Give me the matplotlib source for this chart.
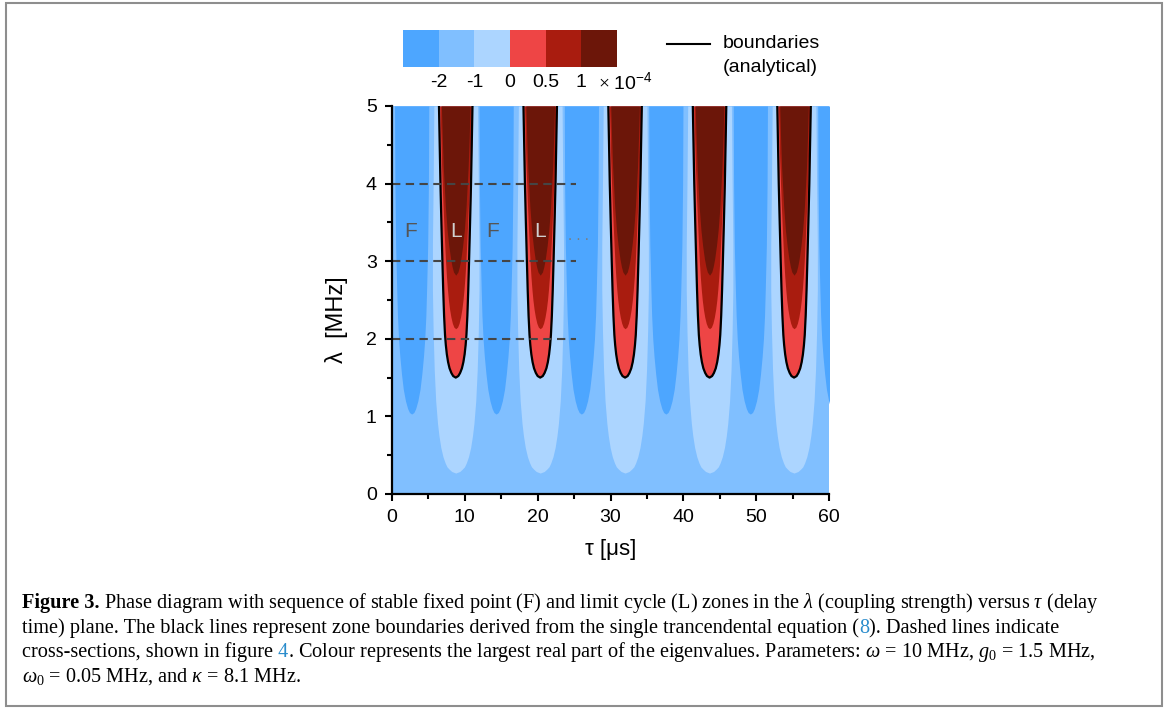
import numpy as np
import matplotlib.pyplot as plt
from matplotlib.colors import ListedColormap, BoundaryNorm
from matplotlib.cm import ScalarMappable
from matplotlib.lines import Line2D
from matplotlib.patches import Rectangle
from matplotlib.ticker import MultipleLocator

plt.rcParams['font.family'] = ['Liberation Sans', 'DejaVu Sans']
plt.rcParams['mathtext.fontset'] = 'custom'
plt.rcParams['mathtext.rm'] = 'Liberation Serif'
plt.rcParams['mathtext.it'] = 'Liberation Serif:italic'
plt.rcParams['mathtext.bf'] = 'Liberation Serif:bold'

# colour levels (x 1e-4) and their colours
levels = [-2, -1, 0, 0.5, 1]
level_labels = ['-2', '-1', '0', '0.5', '1']
colors = ['#4da6ff', '#80bfff', '#acd5ff', '#ee4545', '#a91c0f', '#6c1609']

# zone centres along tau (us)
lobe_centres = [8.75, 20.35, 32.0, 43.6, 55.2]
gap_centres = [2.7, 14.3, 26.0, 37.6, 49.2, 60.8]

# contour half widths (tau) vs lambda
lam_db = [1.03, 1.05, 1.10, 1.20, 1.35, 1.55, 1.77, 2.00, 2.30, 2.63, 3.20, 4.00, 5.00]
hw_db = [0.00, 0.30, 0.55, 0.85, 1.15, 1.40, 1.62, 1.80, 1.95, 2.05, 2.20, 2.30, 2.35]

lam_lb = [0.27, 0.29, 0.32, 0.35, 0.40, 0.48, 0.60, 0.75, 0.91, 1.20, 1.60, 2.10, 2.63, 3.20, 4.00, 5.00]
hw_lb = [0.00, 0.55, 0.90, 1.20, 1.45, 1.75, 2.05, 2.30, 2.50, 2.75, 2.95, 3.10, 3.20, 3.20, 3.10, 3.00]

lam_red = [1.50, 1.52, 1.56, 1.62, 1.70, 1.80, 1.92, 2.05, 2.30, 2.63, 3.00, 3.50, 4.00, 4.50, 5.00]
hw_red = [0.00, 0.35, 0.60, 0.85, 1.05, 1.22, 1.36, 1.47, 1.60, 1.72, 1.83, 1.97, 2.10, 2.20, 2.30]

lam_mid = [2.13, 2.15, 2.20, 2.28, 2.38, 2.50, 2.63, 2.80, 3.00, 3.36, 3.80, 4.30, 5.00]
hw_mid = [0.00, 0.25, 0.46, 0.66, 0.84, 1.00, 1.13, 1.27, 1.40, 1.58, 1.78, 1.97, 2.15]

lam_dark = [2.82, 2.86, 2.93, 3.03, 3.20, 3.40, 3.70, 4.20, 4.60, 5.00]
hw_dark = [0.00, 0.30, 0.50, 0.70, 0.95, 1.18, 1.42, 1.70, 1.85, 1.97]

# cross-sections and zone labels
cut_lams = [2, 3, 4]
cut_end = 25.2
zone_labels = ['F', 'L', 'F', 'L']
zone_taus = [2.5, 8.75, 13.8, 20.35]
zone_lam = 3.38

W, H = 1168, 709
fig = plt.figure(figsize=(W / 100, H / 100), dpi=100)

# -----------------------------------------------------------------------------
# main axes
ax = fig.add_axes([392 / W, (H - 494) / H, 437 / W, 388 / H])
ax.set_facecolor(colors[1])

def zone(centres, lam, hw, color):
    lam = np.asarray(lam)
    hw = np.asarray(hw)
    for c in centres:
        ax.fill_betweenx(lam, c - hw, c + hw, color=color, lw=0, zorder=1)

zone(gap_centres, lam_db, hw_db, colors[0])
zone(lobe_centres, lam_lb, hw_lb, colors[2])
zone(lobe_centres, lam_red, hw_red, colors[3])
zone(lobe_centres, lam_mid, hw_mid, colors[4])
zone(lobe_centres, lam_dark, hw_dark, colors[5])

# analytical boundaries
lr = np.asarray(lam_red)
hr = np.asarray(hw_red)
for c in lobe_centres:
    ax.plot(np.r_[c - hr[::-1], c + hr], np.r_[lr[::-1], lr], color='k', lw=1.6, zorder=3)

ax.hlines(cut_lams, 0, cut_end, colors='#454545', linestyles=(0, (4, 2.6)), lw=1.5, zorder=4)
for s, t in zip(zone_labels, zone_taus):
    ax.text(t, zone_lam, s, ha='center', va='center', fontsize=15,
            color='#555555' if s == 'F' else '#d0d0d0', zorder=5)
ax.text(25.6, 3.33, '. . .', ha='center', va='center', fontsize=11, color='#7c7c7c', zorder=5)

ax.set_xlim(0, 60)
ax.set_ylim(0, 5)
ax.xaxis.set_major_locator(MultipleLocator(10))
ax.xaxis.set_minor_locator(MultipleLocator(5))
ax.yaxis.set_major_locator(MultipleLocator(1))
ax.yaxis.set_minor_locator(MultipleLocator(0.5))
for s in ['top', 'right']:
    ax.spines[s].set_visible(False)
for s in ['left', 'bottom']:
    ax.spines[s].set_linewidth(1.6)
    ax.spines[s].set_zorder(6)
ax.tick_params(which='major', direction='out', length=5, width=1.5, labelsize=14, pad=6)
ax.tick_params(which='minor', direction='out', length=3.5, width=1.5)
ax.set_xlabel('τ [μs]', fontsize=16, labelpad=9)
ax.set_ylabel('λ  [MHz]', fontsize=17)
ax.yaxis.set_label_coords(-0.10, 0.45)

# -----------------------------------------------------------------------------
# colour bar and legend
cax = fig.add_axes([403 / W, (H - 67) / H, 214 / W, 37 / H])
norm = BoundaryNorm([-3] + levels + [2], len(colors))
cb = fig.colorbar(ScalarMappable(norm=norm, cmap=ListedColormap(colors)), cax=cax,
                  orientation='horizontal', spacing='uniform', ticks=levels)
cb.set_ticklabels(level_labels)
cb.outline.set_visible(False)
cax.minorticks_off()
cax.tick_params(which='both', length=0, labelsize=14, pad=5)
fig.text(598 / W, (H - 82) / H, r'$\times\ \mathregular{10^{-4}}$', fontsize=14,
         ha='left', va='center')

fig.add_artist(Line2D([667 / W, 710 / W], [(H - 44) / H] * 2, color='k', lw=1.5))
fig.text(723 / W, (H - 44) / H, 'boundaries', fontsize=14, va='center')
fig.text(723 / W, (H - 68) / H, '(analytical)', fontsize=14, va='center')

# -----------------------------------------------------------------------------
# caption, every part ends with a non-space character
blue = '#2a8ccc'
lines = [
    [('Figure 3.', 'k', 'bold'),
     (r' Phase diagram with sequence of stable fixed point (F) and limit cycle (L) zones '
      r'in the $\lambda$ (coupling strength) versus $\tau$ (delay', 'k', 'normal')],
    [('time) plane. The black lines represent zone boundaries derived from the single '
      'trancendental equation (', 'k', 'normal'), ('8', blue, 'normal'),
     ('). Dashed lines indicate', 'k', 'normal')],
    [('cross-sections, shown in figure', 'k', 'normal'), (' 4', blue, 'normal'),
     (r'. Colour represents the largest real part of the eigenvalues. Parameters: '
      r'$\omega$ = 10 MHz, $g_0$ = 1.5 MHz,', 'k', 'normal')],
    [(r'$\omega_0$ = 0.05 MHz, and $\kappa$ = 8.1 MHz.', 'k', 'normal')],
]
baselines = [608, 633, 657, 682]

renderer = fig.canvas.get_renderer()
serif = ['Liberation Serif', 'DejaVu Serif']

def width(s, size, weight):
    t = fig.text(0, 0, s, fontsize=size, family=serif, weight=weight)
    w = t.get_window_extent(renderer).width
    t.remove()
    return w

size = 14 * 1083 / sum(width(s, 14, wt) for s, c, wt in lines[0])

for parts, yb in zip(lines, baselines):
    x = 22
    for s, col, wt in parts:
        fig.text(x / W, (H - yb) / H, s, fontsize=size, family=serif, color=col,
                 weight=wt, ha='left', va='baseline')
        x += width(s, size, wt)

fig.add_artist(Rectangle((6 / W, 3 / H), 1156 / W, 703 / H, transform=fig.transFigure,
                         fill=False, edgecolor='#8e8e8e', lw=1.5))

plt.savefig('out.png', dpi=100)
